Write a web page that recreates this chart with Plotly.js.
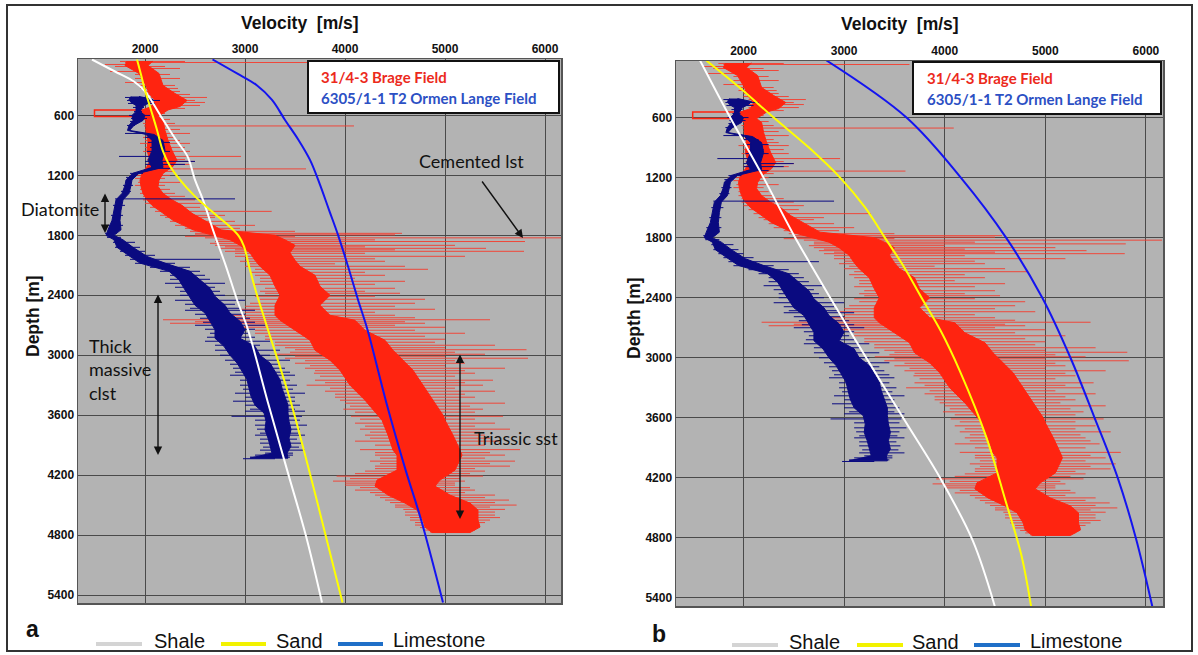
<!DOCTYPE html>
<html>
<head>
<meta charset="utf-8">
<script src="https://cdn.plot.ly/plotly-3.0.1.min.js"></script>
<style>html,body{margin:0;padding:0;background:#fff;}#chart{width:1198px;height:655px;}</style>
</head>
<body>
<div id="chart"></div>
<script>
// ---------- tick labels ----------
const velTicks = [2000, 3000, 4000, 5000, 6000];
const depthTicks = [600, 1200, 1800, 2400, 3000, 3600, 4200, 4800, 5400];

// ---------- 31/4-3 Brage Field log (red): dense core band ----------
const brageDepth = [55,100,180,300,380,450,510,545,610,650,750,850,950,1050,1110,1180,1250,1310,1380,1445,1500,1580,1650,1745,1800,1845,1900,1975,2050,2110,2200,2310,2400,2500,2600,2650,2750,2850,2950,3050,3150,3300,3450,3600,3650,3800,3950,4000,4150,4250,4310,4400,4480,4550,4650,4720,4775];
const brageLo    = [1820,1800,1940,2010,2040,2100,2070,1970,1960,2010,2010,2030,2020,2050,2020,1970,1950,1960,1980,2020,2070,2180,2280,2480,2700,2850,2950,3050,3100,3150,3250,3300,3350,3300,3300,3350,3500,3650,3700,3850,3950,4050,4200,4330,4370,4430,4480,4520,4520,4320,4300,4430,4600,4720,4780,4800,4870];
const brageHi    = [2080,2030,2140,2180,2300,2420,2350,2230,2130,2180,2200,2230,2270,2320,2280,2180,2140,2130,2180,2270,2370,2470,2600,2760,3300,3400,3500,3450,3500,3550,3700,3750,3850,3750,3850,4100,4200,4400,4480,4580,4680,4780,4880,4980,5000,5080,5150,5170,5100,4950,4900,5050,5250,5330,5330,5350,5250];
// ---------- Brage spikes: depth, left end velocity, right end velocity ----------
const brageSpikeDepth = [60,70,90,110,130,160,190,230,270,300,330,360,390,420,450,470,500,530,580,640,680,705,740,780,820,850,880,920,960,1010,1040,1060,1090,1135,1160,1200,1230,1270,1300,1340,1380,1410,1445,1480,1520,1560,1600,1620,1660,1700,1730,1760,1780,1795,1810,1825,1845,1862,1880,1900,1915,1930,1945,1960,1980,2010,2035,2060,2085,2110,2140,2170,2200,2230,2260,2290,2330,2360,2380,2410,2440,2480,2510,2540,2570,2600,2625,2645,2665,2680,2700,2720,2750,2780,2810,2840,2870,2900,2925,2945,2970,2990,3010,3030,3055,3080,3105,3130,3155,3180,3210,3250,3275,3300,3330,3360,3390,3420,3450,3480,3510,3540,3570,3611,3640,3680,3710,3740,3770,3800,3830,3860,3900,3945,3975,4000,4030,4060,4085,4110,4135,4160,4185,4210,4235,4260,4280,4300,4325,4350,4375,4400,4425,4450,4475,4500,4520,4543,4570,4600,4625,4650,4675,4700,4725,4750,4770];
const brageSpikeFrom  = [1750,1800,1600,1700,1850,1650,1900,1900,1800,1950,1950,2000,2000,2050,2100,2050,2050,2000,1950,1950,1980,1990,2000,2000,1980,2000,1950,2000,1980,2000,2020,2050,2000,2000,1950,1850,1900,1930,1900,1950,1950,1980,1980,2000,2050,2100,2150,2200,2250,2300,2400,2450,2500,2500,2400,2600,2700,2700,2650,2700,2800,2750,2900,2800,2900,2900,3000,2950,3050,3000,3100,3050,3100,3150,3150,3100,3200,3150,3200,3100,3150,3050,3000,2950,3000,2800,2900,2180,2500,2250,3000,2900,3100,3100,3200,3200,3300,3300,3400,3500,3450,3305,3500,3400,3600,3500,3650,3600,3700,3690,3750,3700,3800,3616,3850,3800,3900,3900,3950,4000,4050,3983,4100,4060,4150,4100,4200,4150,4250,4200,4250,4100,4300,4150,4300,4300,4350,4250,4350,4300,4300,4200,4100,3916,4050,3880,4000,4000,4150,4100,4250,4300,4350,4400,4450,4500,4500,4583,4600,4600,4650,4650,4700,4700,4750,4800,4850];
const brageSpikeTo    = [2400,3650,1900,2200,2350,2100,2250,2350,2150,2300,2330,2350,2450,2620,2500,2600,2550,2400,2200,2250,2300,4090,2350,2450,2300,2350,2450,2400,2450,2960,2400,2500,2450,3610,2300,2250,2200,2350,2200,2250,2300,2400,2500,2600,2550,3267,2800,2700,2900,3100,2950,3500,4570,4500,3500,6160,4300,5800,4000,5100,4200,5410,4500,5790,4200,5200,4300,4400,3900,4600,4830,4200,4400,4100,4600,4300,4500,4200,4550,4300,4800,4700,4500,4900,4300,4500,4700,5450,4600,4800,4500,5000,4700,5200,4800,5000,4900,5500,5000,5815,5100,5400,5000,5830,5100,5200,5000,5600,5200,5300,5100,5480,5200,5380,5100,5500,5200,5300,5150,5600,5250,5380,5300,5580,5300,5500,5300,5650,5350,5400,5450,5540,5400,5750,5450,5600,5400,5700,5450,5650,5300,5400,5250,5380,5150,5200,5100,5100,5250,5300,5200,5500,5400,5640,5500,5716,5450,5600,5500,5500,5550,5450,5400,5350,5300,5300,5200];
// Brage excursion near 550-610 m
const brageBoxDepth = [545, 545, 610, 610];
const brageBoxVel   = [2050, 1495, 1495, 2050];

// ---------- 6305/1-1 T2 Ormen Lange Field log (navy): dense core band ----------
const ormenDepth = [410,440,470,500,560,600,650,700,750,790,850,950,1050,1120,1178,1245,1300,1380,1445,1550,1650,1745,1800,1845,1920,2011,2078,2160,2245,2330,2411,2500,2578,2660,2745,2830,2911,3000,3078,3160,3245,3330,3411,3500,3578,3660,3745,3830,3911,3980,4030];
const ormenLo    = [1860,1840,1860,1910,1910,1870,1880,1840,1825,2010,2070,2070,2030,2070,1880,1810,1800,1770,1710,1690,1670,1630,1610,1690,1720,1850,1950,2240,2340,2390,2440,2500,2600,2650,2700,2700,2790,2850,2920,2970,3020,3040,3060,3100,3190,3210,3200,3230,3250,3270,3050];
const ormenHi    = [1940,2080,2050,1990,1950,2000,1980,1890,1845,2090,2180,2200,2170,2180,1940,1870,1860,1840,1780,1760,1750,1760,1690,1780,1880,2020,2200,2450,2550,2650,2700,2800,2850,2950,3000,2950,3100,3150,3250,3300,3350,3370,3400,3430,3430,3440,3460,3440,3460,3420,3430];
const ormenSpikeDepth = [420,450,480,520,560,600,630,660,700,780,820,870,920,960,1010,1060,1090,1130,1180,1220,1300,1360,1435,1500,1600,1700,1780,1820,1870,1920,1960,2000,2040,2080,2120,2160,2200,2240,2280,2320,2360,2400,2450,2490,2530,2550,2590,2630,2670,2700,2740,2780,2820,2860,2900,2950,3000,3050,3090,3130,3170,3200,3250,3300,3340,3380,3420,3460,3500,3540,3560,3611,3650,3700,3740,3780,3800,3840,3880,3920,3950,3980,4000,4020,4036];
const ormenSpikeFrom  = [1800,1820,1830,1880,1890,1840,1860,1850,1820,1800,2000,2030,2050,2020,1740,2000,2000,2030,1850,1810,1780,1760,1700,1680,1660,1630,1600,1620,1680,1700,1750,1800,1850,1900,2050,2150,2250,2250,2200,2300,2350,2350,2300,2400,2450,2400,2500,2550,2580,2500,2600,2650,2620,2600,2700,2700,2750,2800,2850,2880,2900,2850,2950,2950,2980,2900,3000,2880,3000,3050,3000,2865,3100,3100,3120,3150,3100,3150,3150,3180,3150,3200,3100,3050,2980];
const ormenSpikeTo    = [2000,2150,2100,1990,1970,2050,2020,1950,1900,2000,2150,2250,2200,2250,2100,2500,2400,2250,1980,1900,1880,1860,2900,1800,1780,1780,1720,1760,1900,1950,2000,2100,2750,2300,2450,2550,2600,2650,2800,2700,2750,2800,3000,2900,2950,3100,3000,3050,3100,3200,3100,3050,3100,3250,3150,3350,3250,3450,3350,3400,3450,3500,3450,3520,3480,3600,3500,3500,3550,3500,3600,3570,3550,3620,3550,3530,3600,3520,3560,3540,3600,3480,3480,3450,3300];

// ---------- Trend curves, panel a ----------
const shaleA_depth = [40,160,260,360,610,845,1010,1245,1445,1775,2110,2445,2745,3475,4145,4810,5475];
const shaleA_vel   = [1470,1700,1890,2000,2160,2310,2425,2500,2580,2690,2810,2920,3030,3230,3420,3610,3770];
const sandA_depth  = [40,210,330,545,745,945,1080,1245,1410,1580,1710,1810,1910,2110,2380,2745,3475,4480,5475];
const sandA_vel    = [1920,1965,1995,2060,2120,2175,2235,2350,2500,2690,2845,2940,2990,3040,3115,3230,3460,3725,3975];
const limeA_depth  = [40,180,295,445,645,845,1045,1280,1545,1810,2110,2445,2745,3480,4145,4645,5475];
const limeA_vel    = [2675,2920,3115,3270,3400,3535,3650,3745,3840,3935,4030,4130,4225,4415,4605,4760,4980];

// ---------- Trend curves, panel b ----------
const shaleB_depth = [30,560,1190,1760,2430,3030,3630,4210,4830,5490];
const shaleB_vel   = [1568,1846,2194,2492,2880,3238,3605,3960,4280,4500];
const sandB_depth  = [30,300,600,900,1200,1500,1800,2100,2400,2730,3130,3797,4430,4963,5490];
const sandB_vel    = [1630,1960,2300,2650,2960,3210,3405,3600,3770,3960,4150,4415,4605,4760,4860];
const limeB_depth  = [30,600,1200,1800,2400,3000,3600,4200,4800,5490];
const limeB_vel    = [2825,3620,4160,4610,4970,5250,5490,5720,5900,6065];

// ---------- helpers ----------
const W = 1198, H = 655;
const PX = x => x / W;
const PY = y => 1 - y / H;

function bandTrace(d, lo, hi, color, xa, ya) {
  return {
    x: lo.concat(hi.slice().reverse()),
    y: d.concat(d.slice().reverse()),
    xaxis: xa, yaxis: ya, mode: 'lines', fill: 'toself',
    fillcolor: color, line: {color: color, width: 1},
    hoverinfo: 'skip', showlegend: false
  };
}
function spikeTrace(d, from, to, color, w, xa, ya) {
  const x = [], y = [];
  for (let i = 0; i < d.length; i++) { x.push(from[i], to[i], null); y.push(d[i], d[i], null); }
  return {x, y, xaxis: xa, yaxis: ya, mode: 'lines', line: {color: color, width: w},
          hoverinfo: 'skip', showlegend: false};
}
function curve(d, v, color, xa, ya) {
  return {x: v, y: d, xaxis: xa, yaxis: ya, mode: 'lines',
          line: {color: color, width: 2, shape: 'spline'}, hoverinfo: 'skip', showlegend: false};
}

const RED = '#ff2410', RED_SP = 'rgba(245,60,45,0.9)', NAVY = '#0a0a80';
const traces = [];
[['x','y'],['x2','y2']].forEach(([xa, ya]) => {
  traces.push(spikeTrace(brageSpikeDepth, brageSpikeFrom, brageSpikeTo, RED_SP, 1, xa, ya));
  traces.push(bandTrace(brageDepth, brageLo, brageHi, RED, xa, ya));
  traces.push({x: brageBoxVel, y: brageBoxDepth, xaxis: xa, yaxis: ya, mode: 'lines',
               line: {color: RED, width: 1.5}, hoverinfo: 'skip', showlegend: false});
  traces.push(spikeTrace(ormenSpikeDepth, ormenSpikeFrom, ormenSpikeTo, NAVY, 1, xa, ya));
  traces.push(bandTrace(ormenDepth, ormenLo, ormenHi, NAVY, xa, ya));
});
traces.push(curve(shaleA_depth, shaleA_vel, '#ffffff', 'x', 'y'));
traces.push(curve(sandA_depth, sandA_vel, '#ffff00', 'x', 'y'));
traces.push(curve(limeA_depth, limeA_vel, '#1414f0', 'x', 'y'));
traces.push(curve(shaleB_depth, shaleB_vel, '#ffffff', 'x2', 'y2'));
traces.push(curve(sandB_depth, sandB_vel, '#ffff00', 'x2', 'y2'));
traces.push(curve(limeB_depth, limeB_vel, '#1414f0', 'x2', 'y2'));

const GRID = '#4a4a4a';
const tickFont = {family: 'Liberation Sans, Arial, sans-serif', size: 12, color: '#111', weight: 'bold'};
function xAx(dom, range, anchor) {
  return {domain: dom, range: range, side: 'top', anchor: anchor, tickvals: velTicks,
          ticktext: velTicks.map(String), showgrid: true, gridcolor: GRID, gridwidth: 1,
          zeroline: false, showline: true, mirror: true, linecolor: '#555', linewidth: 1.5,
          ticks: '', tickfont: tickFont, fixedrange: true};
}
function yAx(dom, range, anchor) {
  return {domain: dom, range: range, anchor: anchor, tickvals: depthTicks,
          ticktext: depthTicks.map(String), showgrid: true, gridcolor: GRID, gridwidth: 1,
          zeroline: false, showline: true, mirror: true, linecolor: '#555', linewidth: 1.5,
          ticks: '', tickfont: tickFont, fixedrange: true};
}

const annFont = {family: 'Lato, sans-serif', size: 18, color: '#111'};
const titleFont = {family: 'Liberation Sans, Arial, sans-serif', size: 17.5, color: '#111', weight: 'bold'};
const legFont = {family: 'Liberation Sans, Arial, sans-serif', size: 20, color: '#111'};
const boxFontR = {family: 'Lato, sans-serif', size: 15, color: '#ec2a1c', weight: 'bold'};
const boxFontB = {family: 'Lato, sans-serif', size: 15, color: '#2c50c4', weight: 'bold'};
const letterFont = {family: 'Liberation Sans, Arial, sans-serif', size: 23, color: '#111', weight: 'bold'};

function txt(text, x, y, font, xanchor, extra) {
  return Object.assign({text: text, x: PX(x), y: PY(y), xref: 'paper', yref: 'paper',
    xanchor: xanchor || 'center', yanchor: 'middle', showarrow: false, font: font}, extra || {});
}
function arrow(x0, y0, x1, y1, both) {
  const a = {x: PX(x1), y: PY(y1), ax: PX(x0), ay: PY(y0), xref: 'paper', yref: 'paper',
    axref: 'paper', ayref: 'paper', text: '', showarrow: true, arrowhead: 2, arrowsize: 1.2,
    arrowwidth: 1.4, arrowcolor: '#111'};
  if (both) { a.arrowside = 'end+start'; a.startarrowhead = 2; a.startarrowsize = 1.2; }
  return a;
}

const annotations = [
  txt('Velocity  [m/s]', 300, 23, titleFont),
  txt('Velocity  [m/s]', 900, 24, titleFont),
  txt('Depth [m]', 33, 316, titleFont, 'center', {textangle: -90}),
  txt('Depth [m]', 634, 318, titleFont, 'center', {textangle: -90}),
  txt('a', 32, 629, letterFont),
  txt('b', 659, 634, letterFont),
  txt('31/4-3 Brage Field', 319, 77, boxFontR, 'left'),
  txt('6305/1-1 T2 Ormen Lange Field', 319, 98, boxFontB, 'left'),
  txt('31/4-3 Brage Field', 925, 78, boxFontR, 'left'),
  txt('6305/1-1 T2 Ormen Lange Field', 925, 99, boxFontB, 'left'),
  txt('Cemented lst', 471, 161, annFont),
  txt('Diatomite', 19, 209, annFont, 'left'),
  txt('Thick<br>massive<br>clst', 87, 369, annFont, 'left', {align: 'left'}),
  txt('Triassic sst', 472, 438, annFont, 'left'),
  arrow(481, 180, 523, 238, false),
  arrow(105, 192, 105, 233, true),
  arrow(158, 293, 158, 455, true),
  arrow(460, 353, 460, 519, true),
  txt('Shale', 152, 641, legFont, 'left'),
  txt('Sand', 274, 641, legFont, 'left'),
  txt('Limestone', 391, 640, legFont, 'left'),
  txt('Shale', 787, 642, legFont, 'left'),
  txt('Sand', 910, 642, legFont, 'left'),
  txt('Limestone', 1028, 641, legFont, 'left')
];

function pline(x0, x1, y, color) {
  return {type: 'line', xref: 'paper', yref: 'paper', x0: PX(x0), x1: PX(x1), y0: PY(y), y1: PY(y),
          line: {color: color, width: 4}};
}
const shapes = [
  {type: 'rect', xref: 'paper', yref: 'paper', x0: PX(7), x1: PX(1192), y0: PY(651), y1: PY(5),
   line: {color: '#333', width: 2}, fillcolor: 'rgba(0,0,0,0)'},
  {type: 'rect', xref: 'paper', yref: 'paper', x0: PX(308), x1: PX(559), y0: PY(113), y1: PY(61),
   line: {color: '#111', width: 2}, fillcolor: '#ffffff', layer: 'above'},
  {type: 'rect', xref: 'paper', yref: 'paper', x0: PX(913), x1: PX(1161), y0: PY(114), y1: PY(62),
   line: {color: '#111', width: 2}, fillcolor: '#ffffff', layer: 'above'},
  pline(96, 142, 644, '#d4d4d4'), pline(221, 266, 644, '#f2f200'), pline(338, 383, 644, '#1f6fc8'),
  pline(732, 778, 645, '#d4d4d4'), pline(857, 903, 645, '#f2f200'), pline(974, 1020, 645, '#1f6fc8')
];

const layout = {
  width: W, height: H, margin: {l: 0, r: 0, t: 0, b: 0},
  paper_bgcolor: '#ffffff', plot_bgcolor: '#b3b3b3', showlegend: false,
  xaxis: xAx([PX(78), PX(561)], [1330, 6160], 'y'),
  yaxis: yAx([PY(603), PY(59)], [5480, 35], 'x'),
  xaxis2: xAx([PX(676), PX(1163)], [1329, 6170], 'y2'),
  yaxis2: yAx([PY(606), PY(61)], [5480, 35], 'x2'),
  annotations: annotations, shapes: shapes
};

Plotly.newPlot('chart', traces, layout, {staticPlot: true, displayModeBar: false});
</script>
</body>
</html>
